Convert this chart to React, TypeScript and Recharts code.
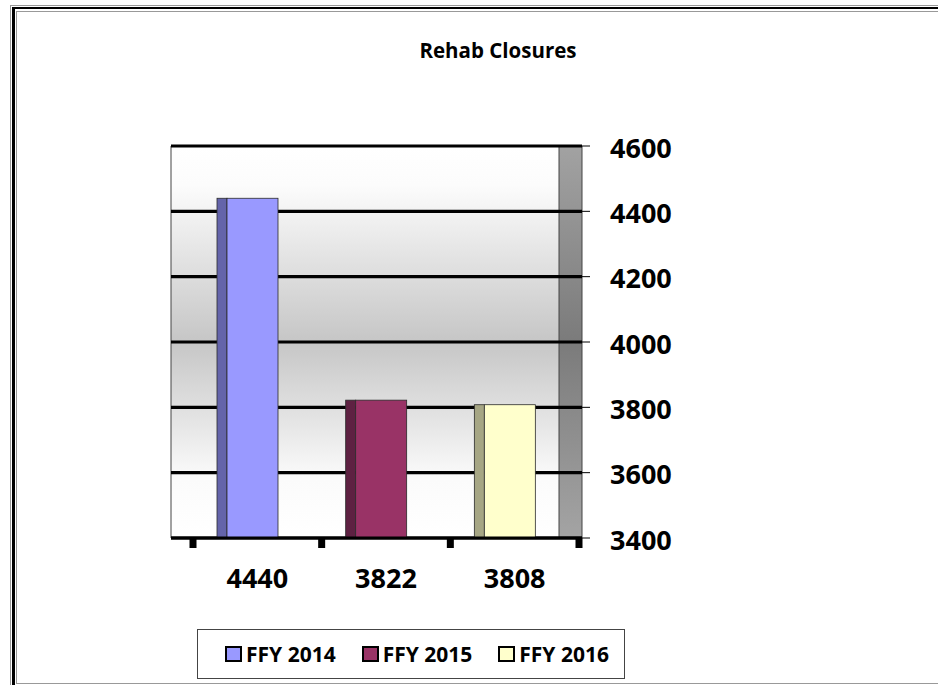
import React from 'react';
import { BarChart, Bar, XAxis, YAxis, CartesianGrid, Legend, Cell } from 'recharts';

// ---- data ----
const categories = ['4440', '3822', '3808'];
const seriesNames = ['FFY 2014', 'FFY 2015', 'FFY 2016'];
const closures = [4440, 3822, 3808];
const yTicks = [3400, 3600, 3800, 4000, 4200, 4400, 4600];
const yDomain = [3400, 4600];

// ---- styles ----
const frontColors = ['#9999FF', '#993366', '#FFFFCC'];
const sideColors = ['#6464AA', '#5E2142', '#A6A684'];
const FONT = "'Open Sans', 'DejaVu Sans', sans-serif";
const W = 938;
const H = 685;
const MARGIN = { top: 146, left: 171, right: 276, bottom: 87 };
const BACK_FRAC = 388 / 411;

const data = categories.map((c, i) => ({ cat: c, name: seriesNames[i], value: closures[i] }));

const Bar3D = (props: any) => {
  const { x, y, width, height } = props;
  let index = props.index;
  if (index === undefined || index === null) index = categories.indexOf(props.payload?.cat);
  const depth = 10;
  const sx = x - depth;
  return (
    <g>
      <rect x={sx} y={y} width={depth} height={height} fill={sideColors[index]} stroke="#2a2a2a" strokeWidth={0.8} />
      <rect x={x} y={y} width={width - depth} height={height} fill={frontColors[index]} stroke="#2a2a2a" strokeWidth={0.8} />
    </g>
  );
};

const XTick = (props: any) => {
  const { x, y, payload, index } = props;
  const half = payload && typeof payload.offset === 'number' && payload.offset > 0 ? payload.offset : 64.33;
  const last = index === categories.length - 1;
  return (
    <g>
      <rect x={x - half - 3.5} y={y} width={7} height={10} fill="#000" />
      {last && <rect x={x + half - 3.5} y={y} width={7} height={10} fill="#000" />}
      <text x={x} y={y + 50} textAnchor="middle" fontFamily={FONT} fontWeight={700} fontSize={27} fill="#000">
        {payload.value}
      </text>
    </g>
  );
};

const LegendBox = () => (
  <div
    style={{
      boxSizing: 'border-box',
      width: '100%',
      height: '100%',
      border: '1px solid #444',
      background: '#fff',
      display: 'flex',
      alignItems: 'center',
      justifyContent: 'center',
      fontFamily: FONT,
      fontWeight: 700,
      fontSize: 21,
      color: '#000',
      paddingLeft: 12,
    }}
  >
    {seriesNames.map((n, i) => (
      <div key={n} style={{ display: 'flex', alignItems: 'center', marginLeft: i === 0 ? 0 : 26 }}>
        <div
          style={{
            boxSizing: 'border-box',
            width: 17,
            height: 16,
            border: '2px solid #000',
            background: frontColors[i],
            marginRight: 4,
          }}
        />
        <span style={{ lineHeight: '24px' }}>{n}</span>
      </div>
    ))}
  </div>
);

const wallLines = ({ offset }: any) => [
  offset.left,
  offset.left + offset.width * BACK_FRAC,
  offset.left + offset.width,
];

export default function App() {
  return (
    <div style={{ position: 'absolute', left: 0, top: 0, width: W, height: H, overflow: 'hidden', background: '#fff' }}>
      <BarChart width={W} height={H} data={data} margin={MARGIN}>
        <defs>
          <linearGradient id="backGrad" x1="0" y1="0" x2="0" y2="1">
            <stop offset="0" stopColor="#ffffff" />
            <stop offset="0.1" stopColor="#fcfcfc" />
            <stop offset="0.5" stopColor="#c6c6c6" />
            <stop offset="0.85" stopColor="#fbfbfb" />
            <stop offset="1" stopColor="#ffffff" />
          </linearGradient>
          <linearGradient id="sideGrad" x1="0" y1="0" x2="0" y2="1">
            <stop offset="0" stopColor="#a2a2a2" />
            <stop offset="0.5" stopColor="#7b7b7b" />
            <stop offset="1" stopColor="#a4a4a4" />
          </linearGradient>
          <pattern id="walls" patternUnits="objectBoundingBox" patternContentUnits="objectBoundingBox" width="1" height="1">
            <rect x="0" y="0" width={BACK_FRAC} height="1" fill="url(#backGrad)" />
            <rect x={BACK_FRAC} y="0" width={1 - BACK_FRAC} height="1" fill="url(#sideGrad)" />
          </pattern>
        </defs>
        <CartesianGrid
          horizontal={false}
          vertical
          fill="url(#walls)"
          fillOpacity={1}
          stroke="#444"
          strokeWidth={1}
          verticalCoordinatesGenerator={wallLines}
        />
        <CartesianGrid vertical={false} stroke="#000" strokeWidth={3.2} />
        <XAxis
          dataKey="cat"
          padding={{ left: 22, right: 3 }}
          height={60}
          axisLine={{ stroke: '#000', strokeWidth: 3.2 }}
          tickLine={false}
          tickSize={0}
          tickMargin={0}
          tick={<XTick />}
          interval={0}
        />
        <YAxis
          orientation="right"
          domain={yDomain}
          ticks={yTicks}
          allowDataOverflow
          width={80}
          axisLine={false}
          tickLine={{ stroke: '#000', strokeWidth: 1 }}
          tickSize={8}
          tickMargin={20}
          tick={{ fontFamily: FONT, fontWeight: 700, fontSize: 27, fill: '#000', textAnchor: 'start', dy: 2 }}
        />
        <Bar dataKey="value" barSize={61} shape={<Bar3D />} isAnimationActive={false}>
          {data.map((d, i) => (
            <Cell key={d.cat} fill={frontColors[i]} />
          ))}
        </Bar>
        <Legend
          layout="horizontal"
          verticalAlign="middle"
          align="center"
          wrapperStyle={{ left: 197, top: 629, width: 428, height: 50 }}
          content={<LegendBox />}
        />
      </BarChart>
      <div
        style={{
          position: 'absolute',
          left: 348,
          top: 40,
          width: 300,
          textAlign: 'center',
          fontFamily: FONT,
          fontWeight: 700,
          fontSize: 20.5,
          lineHeight: '20px',
          color: '#000',
        }}
      >
        Rehab Closures
      </div>
      {/* double frame */}
      <div style={{ position: 'absolute', left: 10, top: 5, width: 1000, height: 1000, borderLeft: '1px solid #999', borderTop: '1px solid #999', pointerEvents: 'none' }} />
      <div style={{ position: 'absolute', left: 12, top: 7, width: 1000, height: 1000, borderLeft: '3px solid #000', borderTop: '2px solid #000', pointerEvents: 'none' }} />
      <div style={{ position: 'absolute', left: 16, top: 11, width: 1000, height: 671, borderLeft: '1px solid #999', borderTop: '1px solid #999', borderBottom: '1px solid #999', pointerEvents: 'none' }} />
    </div>
  );
}
